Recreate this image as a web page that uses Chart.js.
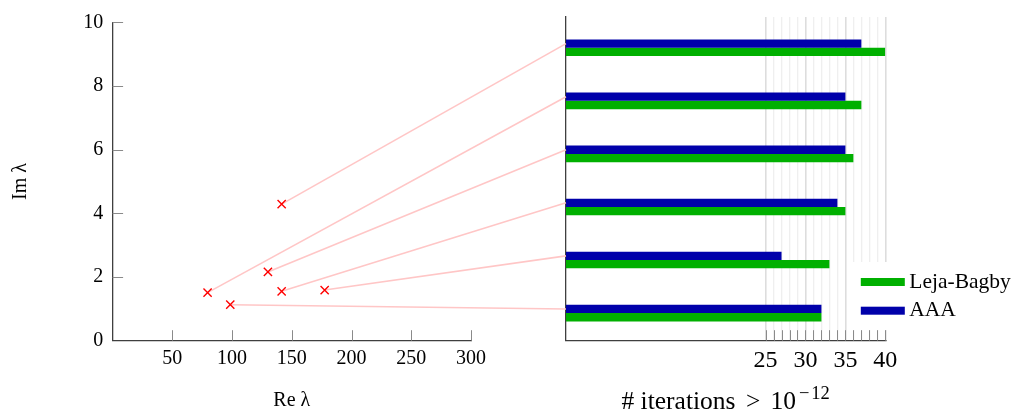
<!DOCTYPE html>
<html>
<head>
<meta charset="utf-8">
<script src="https://cdn.jsdelivr.net/npm/chart.js@4.4.1/dist/chart.umd.min.js"></script>
<style>
  html, body { margin: 0; padding: 0; background: #ffffff; }
  #wrap { position: relative; width: 1015px; height: 415px; }
  #wrap canvas { position: absolute; left: 0; top: 0; }
</style>
</head>
<body>
<div id="wrap">
  <canvas id="bars" width="1015" height="415"></canvas>
  <canvas id="poles" width="1015" height="415"></canvas>
</div>
<script>
// Eigenvalues, in the same order as the bar groups (top to bottom)
const poleNames = ['λ1', 'λ2', 'λ3', 'λ4', 'λ5', 'λ6'];
const poleRe = [141.5, 79.5, 130, 141.5, 177.5, 98.5];
const poleIm = [4.29, 1.51, 2.16, 1.55, 1.59, 1.13];

// Iteration counts per eigenvalue for each method
const iterAAA  = [37, 35, 35, 34, 27, 32];
const iterLeja = [40, 37, 36, 35, 33, 32];

// Tick values
const reTicks = [50, 100, 150, 200, 250, 300];
const imTicks = [0, 2, 4, 6, 8, 10];
const iterLabelTicks = [25, 30, 35, 40];
const iterAllTicks = [25, 26, 27, 28, 29, 30, 31, 32, 33, 34, 35, 36, 37, 38, 39, 40];

const SERIF = "'Liberation Serif', 'Times New Roman', serif";
const AXIS_DARK = '#3f3f3f';
const TICK_GRAY = '#8a8a8a';
const BLUE = '#0000aa';
const GREEN = '#00b000';
const LINK_PINK = '#ffc6c6';
const W = 1015, H = 415;

// Short tick marks drawn on the inside of the plot frame
function innerTicks(id, specs) {
  return {
    id,
    afterDraw(chart) {
      const ctx = chart.ctx;
      const area = chart.chartArea;
      ctx.save();
      ctx.strokeStyle = TICK_GRAY;
      ctx.lineWidth = 1;
      specs.forEach(({ axis, values, len }) => {
        const scale = chart.scales[axis];
        values.forEach(v => {
          const p = Math.round(scale.getPixelForValue(v)) + 0.5;
          ctx.beginPath();
          if (axis === 'x') {
            ctx.moveTo(p, area.bottom);
            ctx.lineTo(p, area.bottom - len);
          } else {
            ctx.moveTo(area.left, p);
            ctx.lineTo(area.left + len, p);
          }
          ctx.stroke();
        });
      });
      ctx.restore();
    }
  };
}

// Axis title with a superscript exponent, centred under the bar plot
const iterTitle = {
  id: 'iterTitle',
  afterDraw(chart) {
    const ctx = chart.ctx;
    const area = chart.chartArea;
    const big = '25.5px ' + SERIF;
    const small = '18.5px ' + SERIF;
    const parts = [
      { t: '# iterations', f: big, gap: 0, dy: 0 },
      { t: '>', f: big, gap: 10.5, dy: 0 },
      { t: '10', f: big, gap: 10, dy: 0 },
      { t: '\u2212', f: small, gap: 3, dy: -10 },
      { t: '12', f: small, gap: 2, dy: -10 }
    ];
    ctx.save();
    ctx.fillStyle = '#000';
    ctx.textBaseline = 'alphabetic';
    ctx.textAlign = 'left';
    let total = 0;
    parts.forEach(p => { ctx.font = p.f; p.w = ctx.measureText(p.t).width; total += p.gap + p.w; });
    let x = (area.left + area.right) / 2 - total / 2;
    const base = area.bottom + 67.8;
    parts.forEach(p => {
      x += p.gap;
      ctx.font = p.f;
      ctx.fillText(p.t, x, base + p.dy);
      x += p.w;
    });
    ctx.restore();
  }
};

// Legend in the lower right corner of the bar plot, on a white box
const barLegend = {
  id: 'barLegend',
  afterDraw(chart) {
    const ctx = chart.ctx;
    const area = chart.chartArea;
    const items = chart.data.datasets.slice().reverse();
    const boxLeft = area.right - 35;
    const boxTop = 262;
    ctx.save();
    ctx.fillStyle = '#ffffff';
    ctx.fillRect(boxLeft, boxTop, W - boxLeft, 68);
    items.forEach((ds, i) => {
      const cy = 282 + i * 28.7;
      ctx.fillStyle = ds.backgroundColor;
      ctx.fillRect(area.right - 24.5, cy - 4, 44, 8);
      ctx.fillStyle = '#000';
      ctx.font = '21.5px ' + SERIF;
      ctx.textBaseline = 'middle';
      ctx.textAlign = 'left';
      ctx.fillText(ds.label, area.right + 24, cy);
    });
    ctx.restore();
  }
};

const barChart = new Chart(document.getElementById('bars'), {
  type: 'bar',
  data: {
    labels: poleNames,
    datasets: [
      { label: 'AAA', data: iterAAA.map((v, i) => ({ x: v, y: i })), backgroundColor: BLUE, borderWidth: 0 },
      { label: 'Leja-Bagby', data: iterLeja.map((v, i) => ({ x: v, y: i })), backgroundColor: GREEN, borderWidth: 0 }
    ]
  },
  options: {
    indexAxis: 'y',
    responsive: false,
    animation: false,
    devicePixelRatio: 1,
    layout: { padding: { left: 566, top: 17, right: W - 885.3, bottom: 0 } },
    datasets: { bar: { categoryPercentage: 0.313, barPercentage: 1 } },
    plugins: { legend: { display: false }, tooltip: { enabled: false } },
    scales: {
      x: {
        type: 'linear',
        position: 'bottom',
        min: 0,
        max: 40,
        afterBuildTicks: s => { s.ticks = iterAllTicks.map(v => ({ value: v })); },
        afterFit: s => { s.height = H - 340.7; },
        grid: {
          drawTicks: false,
          color: c => (c.tick && c.tick.value % 5 === 0) ? '#dddddd' : '#efefef',
          lineWidth: c => (c.tick && c.tick.value % 5 === 0) ? 1.6 : 1.3
        },
        border: { color: AXIS_DARK, width: 1.3 },
        ticks: {
          autoSkip: false,
          maxRotation: 0,
          padding: 5.5,
          color: '#000',
          font: { family: SERIF, size: 24 },
          callback: v => iterLabelTicks.includes(v) ? String(v) : ''
        }
      },
      y: {
        type: 'linear',
        reverse: true,
        offset: false,
        min: -0.58,
        max: 5.52,
        afterBuildTicks: s => { s.ticks = poleNames.map((n, i) => ({ value: i })); },
        afterFit: s => { s.width = 0; },
        grid: { display: false, drawTicks: false, offset: false },
        ticks: { display: false },
        border: { color: AXIS_DARK, width: 1.3 }
      }
    }
  },
  plugins: [innerTicks('barTicks', [{ axis: 'x', values: iterAllTicks, len: 10.5 }]), barLegend, iterTitle]
});

// Pale links from each eigenvalue to its bar group
const poleLinks = {
  id: 'poleLinks',
  beforeDatasetsDraw(chart) {
    const ctx = chart.ctx;
    const pts = chart.getDatasetMeta(0).data;
    const aaaBars = barChart.getDatasetMeta(0).data;
    const xEnd = barChart.chartArea.left;
    ctx.save();
    ctx.strokeStyle = LINK_PINK;
    ctx.lineWidth = 1.6;
    pts.forEach((p, i) => {
      ctx.beginPath();
      ctx.moveTo(p.x, p.y);
      ctx.lineTo(xEnd, aaaBars[i].y);
      ctx.stroke();
    });
    ctx.restore();
  }
};

const poleChart = new Chart(document.getElementById('poles'), {
  type: 'scatter',
  data: {
    datasets: [{
      label: 'eigenvalues',
      data: poleRe.map((x, i) => ({ x, y: poleIm[i] })),
      pointStyle: 'crossRot',
      pointRadius: 5.8,
      pointBorderWidth: 1.4,
      borderColor: '#ff0000',
      backgroundColor: '#ff0000'
    }]
  },
  options: {
    responsive: false,
    animation: false,
    devicePixelRatio: 1,
    layout: { padding: { left: 0, top: 22.3, right: W - 471, bottom: 0 } },
    plugins: { legend: { display: false }, tooltip: { enabled: false } },
    scales: {
      x: {
        type: 'linear',
        min: 0,
        max: 300,
        afterBuildTicks: s => { s.ticks = reTicks.map(v => ({ value: v })); },
        afterFit: s => { s.height = H - 340.7; },
        grid: { display: false, drawTicks: false },
        border: { color: AXIS_DARK, width: 1.3 },
        ticks: { padding: 6, color: '#000', font: { family: SERIF, size: 20 }, maxRotation: 0 },
        title: { display: true, text: 'Re λ', color: '#000', font: { family: SERIF, size: 20 }, padding: { top: 0, bottom: 2.7 } }
      },
      y: {
        type: 'linear',
        min: 0,
        max: 10,
        afterBuildTicks: s => { s.ticks = imTicks.map(v => ({ value: v })); },
        afterFit: s => { s.width = 112.6; },
        grid: { display: false, drawTicks: false },
        border: { color: AXIS_DARK, width: 1.3 },
        ticks: { padding: 9.3, color: '#000', font: { family: SERIF, size: 20 } },
        title: { display: true, text: 'Im λ', color: '#000', font: { family: SERIF, size: 20 }, padding: { top: 9.2, bottom: 0 } }
      }
    }
  },
  plugins: [poleLinks, innerTicks('poleTicks', [
    { axis: 'x', values: reTicks, len: 10.5 },
    { axis: 'y', values: imTicks.filter(v => v !== 0), len: 10.5 }
  ])]
});
</script>
</body>
</html>
